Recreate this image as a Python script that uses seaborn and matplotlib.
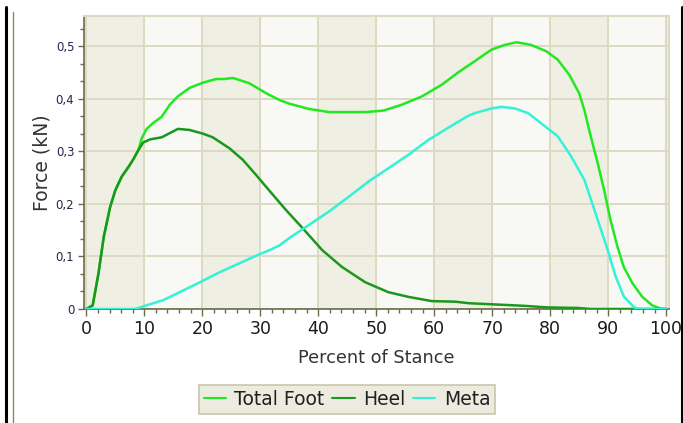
import matplotlib
matplotlib.use("Agg")
import matplotlib.pyplot as plt
from matplotlib.lines import Line2D
from matplotlib.ticker import MultipleLocator
import numpy as np
import pandas as pd
import seaborn as sns

# Ground reaction force over the stance phase (kN)
total_x = [0, 1.1, 2.1, 3.0, 4.1, 5.0, 6.1, 7.3, 8.1, 9.0, 9.55, 10.4, 11.5, 13.0, 14.4,
           15.8, 17.8, 20.1, 22.4, 23.8, 25.3, 28.1, 31.0, 33.3, 35.0, 38.4, 41.9, 45.3,
           48.2, 51.3, 54.4, 57.9, 61.3, 64.2, 67.0, 69.9, 72.2, 74.2, 76.7, 79.3, 81.3,
           83.3, 85.0, 85.9, 87.0, 88.2, 89.3, 90.4, 91.6, 92.7, 94.2, 95.9, 97.6, 99.0, 100]
total_y = [0, 0.007, 0.068, 0.137, 0.194, 0.226, 0.252, 0.271, 0.285, 0.303, 0.325, 0.343,
           0.354, 0.366, 0.389, 0.405, 0.421, 0.431, 0.438, 0.438, 0.440, 0.430, 0.411,
           0.398, 0.391, 0.381, 0.375, 0.375, 0.375, 0.378, 0.389, 0.405, 0.427, 0.451,
           0.472, 0.494, 0.503, 0.508, 0.503, 0.491, 0.475, 0.446, 0.411, 0.379, 0.329,
           0.278, 0.227, 0.170, 0.119, 0.080, 0.049, 0.023, 0.007, 0.001, 0]

heel_x = [0, 1.1, 2.1, 3.0, 4.1, 5.0, 6.1, 7.3, 8.1, 9.0, 9.8, 11.0, 13.0, 14.4, 15.8,
          17.8, 20.1, 21.8, 24.7, 27.0, 29.3, 31.6, 34.4, 37.3, 40.7, 44.1, 48.1, 52.1,
          55.6, 59.6, 63.6, 66.0, 69.9, 75.6, 79.6, 84.7, 87.0, 100]
heel_y = [0, 0.007, 0.068, 0.137, 0.194, 0.226, 0.252, 0.271, 0.285, 0.303, 0.317, 0.323,
          0.327, 0.335, 0.343, 0.341, 0.334, 0.327, 0.306, 0.284, 0.255, 0.225, 0.189,
          0.154, 0.112, 0.080, 0.051, 0.032, 0.023, 0.015, 0.014, 0.011, 0.009, 0.006,
          0.003, 0.002, 0, 0]

meta_x = [0, 8.4, 10.4, 13.3, 16.1, 19.6, 23.0, 26.4, 29.8, 31.6, 33.3, 35.0, 38.4, 41.9,
          45.3, 48.7, 52.1, 55.6, 59.0, 62.4, 64.2, 65.9, 67.0, 69.9, 71.6, 73.9, 76.2,
          78.4, 81.3, 83.6, 85.9, 88.2, 89.9, 91.3, 92.7, 94.5, 95.6, 100]
meta_y = [0, 0, 0.007, 0.017, 0.032, 0.051, 0.070, 0.087, 0.104, 0.112, 0.121, 0.135,
          0.160, 0.186, 0.214, 0.243, 0.268, 0.294, 0.322, 0.345, 0.357, 0.368, 0.373,
          0.382, 0.385, 0.382, 0.373, 0.354, 0.329, 0.291, 0.246, 0.170, 0.113, 0.062,
          0.024, 0.003, 0, 0]

series_names = ["Total Foot", "Heel", "Meta"]
series_colors = ["#22e822", "#1b971b", "#33f2d6"]

y_ticks = [0, 0.1, 0.2, 0.3, 0.4, 0.5]
y_tick_labels = ["0", "0,1", "0,2", "0,3", "0,4", "0,5"]
x_ticks = [0, 10, 20, 30, 40, 50, 60, 70, 80, 90, 100]

frames = []
for name, xs, ys in zip(series_names, [total_x, heel_x, meta_x], [total_y, heel_y, meta_y]):
    frames.append(pd.DataFrame({"pct": xs, "force": ys, "series": name}))
df = pd.concat(frames, ignore_index=True)

sns.set_theme(style="white")
plt.rcParams["font.family"] = ["DejaVu Sans"]

W, H = 683, 423
fig = plt.figure(figsize=(W / 100, H / 100), dpi=100)
ax = fig.add_axes([84 / W, 1 - 309 / H, (669 - 84) / W, (309 - 16) / H])

# Alternating column bands behind the grid
ax.set_facecolor("#f0efe4")
for i, x0 in enumerate(range(0, 100, 10)):
    if i % 2 == 1:
        ax.axvspan(x0, x0 + 10, color="#f8f8f4", zorder=0, lw=0)

sns.lineplot(data=df, x="pct", y="force", hue="series", hue_order=series_names,
             palette=dict(zip(series_names, series_colors)), estimator=None,
             sort=False, linewidth=1.8, legend=False, ax=ax, zorder=3)

ax.set_xlim(-0.4, 100.5)
ax.set_ylim(0, 0.558)
ax.set_xticks(x_ticks)
ax.set_xticklabels([str(v) for v in x_ticks])
ax.set_yticks(y_ticks)
ax.set_yticklabels(y_tick_labels)
ax.xaxis.set_minor_locator(MultipleLocator(2))
ax.yaxis.set_minor_locator(MultipleLocator(0.1 / 3))

ax.grid(True, which="major", color="#dcdac4", linewidth=1.4, zorder=1)
ax.set_axisbelow(True)

for side in ["top", "right"]:
    ax.spines[side].set_color("#dcdac4")
    ax.spines[side].set_linewidth(1.5)
for side in ["left", "bottom"]:
    ax.spines[side].set_color("#6b6b4a")
    ax.spines[side].set_linewidth(1.2)

ax.tick_params(axis="y", which="major", direction="out", length=4, width=1,
               color="#6b6b4a", labelsize=8.5, labelcolor="#1f2a4a", pad=3, left=True)
ax.tick_params(axis="y", which="minor", direction="out", length=3, width=1,
               color="#6b6b4a", left=True)
ax.tick_params(axis="x", which="major", direction="out", length=5, width=1,
               color="#6b6b4a", labelsize=12.5, labelcolor="#1a1a1a", pad=3, bottom=True)
ax.tick_params(axis="x", which="minor", direction="out", length=3, width=1,
               color="#6b6b4a", bottom=True)

ax.set_xlabel("Percent of Stance", fontsize=12.8, color="#333333")
ax.set_ylabel("Force (kN)", fontsize=13.5, color="#333333")
ax.xaxis.set_label_coords(0.5, -0.137)
ax.yaxis.set_label_coords(-0.056, 0.5)

handles = [Line2D([0], [0], color=c, lw=1.5) for c in series_colors]
leg = fig.legend(handles, series_names, loc="center", bbox_to_anchor=(347 / W, 1 - 399.5 / H),
                 ncol=3, fontsize=13.5, frameon=True, fancybox=False, handlelength=1.2,
                 handletextpad=0.45, columnspacing=0.4, borderpad=0.25,
                 facecolor="#ecebdf", edgecolor="#c8c6a8", framealpha=1)
leg.get_frame().set_linewidth(1.2)
for t in leg.get_texts():
    t.set_color("#202020")

# Window frame lines
fig.add_artist(Line2D([6 / W, 6 / W], [0, 1 - 7 / H], color="black", lw=2.2,
                      transform=fig.transFigure))
fig.add_artist(Line2D([13 / W, 13 / W], [0, 1 - 12 / H], color="#8a8a60", lw=1.0,
                      transform=fig.transFigure))
fig.add_artist(Line2D([682 / W, 682 / W], [0, 1 - 7 / H], color="black", lw=2.2,
                      transform=fig.transFigure))

fig.savefig("out.png", dpi=100)
